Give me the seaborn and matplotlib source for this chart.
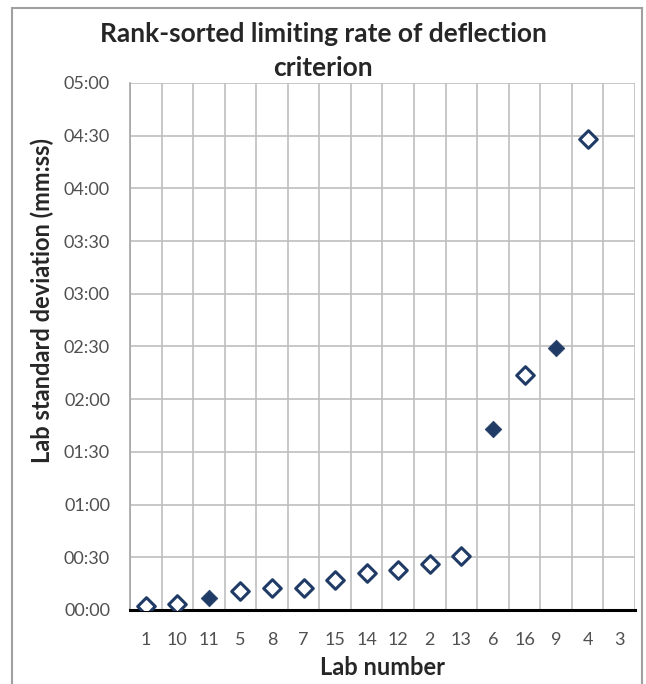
import numpy as np
import pandas as pd
import seaborn as sns
import matplotlib.pyplot as plt
from matplotlib.ticker import FuncFormatter, MultipleLocator, FixedLocator
from matplotlib.patches import Rectangle

# lab numbers in rank order, std dev in seconds (lab 3 has no value)
labs = ["1", "10", "11", "5", "8", "7", "15", "14", "12", "2", "13", "6", "16", "9", "4", "3"]
std_sec = [2, 3.5, 7, 11, 12.6, 12.3, 17.3, 21, 22.5, 26, 30.6, 103, 134, 149, 268, np.nan]
flagged = [False, False, True, False, False, False, False, False, False, False, False,
           True, False, True, False, False]

df = pd.DataFrame({"lab": labs, "sd": std_sec, "flag": flagged})
df["pos"] = np.arange(len(df))

sns.set_style("white")
plt.rcParams["font.family"] = ["Lato", "DejaVu Sans"]

navy = "#1F3B66"

fig = plt.figure(figsize=(6.46, 6.84), dpi=100)
ax = fig.add_axes([0.2012, 0.1082, 0.7818, 0.7705])

hollow = df[~df["flag"]].dropna()
filled = df[df["flag"]].dropna()
sns.scatterplot(data=hollow, x="pos", y="sd", marker="D", s=80, color="white",
                edgecolor=navy, linewidth=2.2, ax=ax, zorder=3)
sns.scatterplot(data=filled, x="pos", y="sd", marker="D", s=72, color=navy,
                edgecolor=navy, linewidth=0.5, ax=ax, zorder=3)

ax.set_xlim(-0.5, len(labs) - 0.5)
ax.set_ylim(0, 300)

ax.xaxis.set_major_locator(FixedLocator(df["pos"].values))
ax.set_xticklabels(labs)
ax.xaxis.set_minor_locator(FixedLocator(np.arange(-0.5, len(labs), 1.0)))
ax.tick_params(axis="x", which="major", length=0, pad=16, labelsize=13, labelcolor="#505050")
ax.tick_params(axis="x", which="minor", length=5, width=2, color="black", direction="out")

ax.yaxis.set_major_locator(MultipleLocator(30))
ax.yaxis.set_major_formatter(FuncFormatter(lambda v, p: "%02d:%02d" % (int(v) // 60, int(v) % 60)))
ax.tick_params(axis="y", length=4.3, width=1, color="#A6A6A6", direction="out", pad=10,
               labelsize=13, labelcolor="#505050")

ax.grid(False)
ax.grid(axis="y", which="major", color="#BFBFBF", linewidth=1.2)
ax.grid(axis="x", which="minor", color="#BFBFBF", linewidth=1.2)
ax.set_axisbelow(True)

for side in ["top", "right"]:
    ax.spines[side].set_visible(False)
ax.spines["left"].set_color("#A6A6A6")
ax.spines["left"].set_linewidth(1.2)
ax.spines["bottom"].set_color("black")
ax.spines["bottom"].set_linewidth(2.2)

ax.set_xlabel("Lab number", fontsize=17, fontweight="bold")
ax.set_ylabel("Lab standard deviation (mm:ss)", fontsize=17, fontweight="bold")
ax.xaxis.set_label_coords(0.5, -0.11)
ax.yaxis.set_label_coords(-0.174, 0.588)
ax.xaxis.label.set_va("center")
ax.yaxis.label.set_va("center")

fig.text(0.5, 1 - 51 / 684, "Rank-sorted limiting rate of deflection\ncriterion", ha="center", va="center",
         fontsize=19, fontweight="bold", linespacing=1.5)

fig.patches.append(Rectangle((12 / 646, -0.05), 630 / 646, 1.05 - 8 / 684, transform=fig.transFigure,
                             fill=False, edgecolor="#A0A0A0", linewidth=1.5))

fig.savefig("out.png", dpi=100)
